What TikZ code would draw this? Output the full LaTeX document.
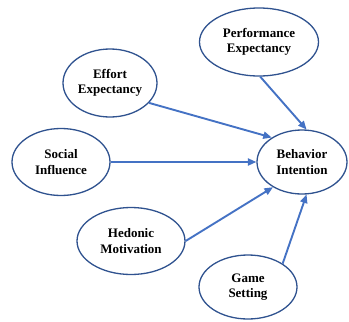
\documentclass[tikz,border=0pt]{standalone}
\usepackage{fontspec}
\setmainfont{Liberation Serif}
\usepackage{tikz}
\usetikzlibrary{arrows.meta,shapes.geometric}
\definecolor{rim}{RGB}{47,82,143}
\definecolor{link}{RGB}{68,114,196}
\tikzset{
  oval/.style={ellipse,draw=rim,line width=1.3pt,fill=white,inner sep=0pt,align=center,
    font=\fontsize{13}{15.5}\selectfont\bfseries},
  ar/.style={-{Triangle[length=3mm,width=2.5mm]},link,line width=1.9pt},
}
\begin{document}
\begin{tikzpicture}[x=1pt,y=-1pt]
  \useasboundingbox (0,0) rectangle (349,322);
  \node[oval,minimum width=119pt,minimum height=68pt] (pe) at (259,42)  {Performance\\Expectancy};
  \node[oval,minimum width=94pt,minimum height=68pt]  (ee) at (110,83)  {Effort\\Expectancy};
  \node[oval,minimum width=98pt,minimum height=67pt]  (si) at (61,162)  {Social\\Influence};
  \node[oval,minimum width=90pt,minimum height=64pt]  (bi) at (302,162) {Behavior\\Intention};
  \node[oval,minimum width=108pt,minimum height=67pt] (hm) at (131,241) {Hedonic\\Motivation};
  \node[oval,minimum width=98pt,minimum height=64pt]  (gs) at (248,287) {Game\\Setting};
  % paths into the intention node
  \draw[ar] (pe.-88) -- (bi.82);
  \draw[ar] (ee.-27) -- (bi.141);
  \draw[ar] (si.east) -- (bi.west);
  \draw[ar] (hm.east) -- (bi.221);
  \draw[ar] (gs.34) -- (bi.-82);
\end{tikzpicture}
\end{document}
